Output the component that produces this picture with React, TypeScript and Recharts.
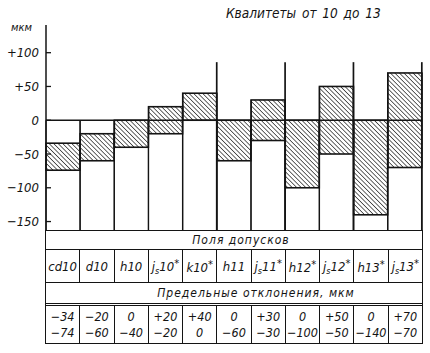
import React from 'react';
import { ComposedChart, Bar, XAxis, YAxis, ReferenceLine } from 'recharts';

// Поля допусков, квалитеты 10..13
const fields = ['cd10', 'd10', 'h10', 'js10', 'k10', 'h11', 'js11', 'h12', 'js12', 'h13', 'js13'];
const fieldLetters = ['cd', 'd', 'h', 'js', 'k', 'h', 'js', 'h', 'js', 'h', 'js'];
const fieldGrades = ['10', '10', '10', '10', '10', '11', '11', '12', '12', '13', '13'];
const starred = [false, false, false, true, true, false, true, true, true, true, true];
const upperDev = [-34, -20, 0, 20, 40, 0, 30, 0, 50, 0, 70];
const lowerDev = [-74, -60, -40, -20, 0, -60, -30, -100, -50, -140, -70];
const groupEnd = [false, false, false, false, true, false, true, false, true, false, true];
const yTicks = [100, 50, 0, -50, -100, -150];

const Y_MIN = -164;
const Y_MAX = 141;
const DIVIDER_TOP = 86;

const INK = '#141414';
const FONT = "'Liberation Sans Narrow', 'DejaVu Sans Condensed', 'Liberation Sans', sans-serif";

const data = fields.map((f, i) => ({
  field: f,
  upper: upperDev[i],
  lower: lowerDev[i],
  top: Math.max(upperDev[i], 0),
  groupEnd: groupEnd[i],
}));

function fmt(v: number): string {
  if (v > 0) return `+${v}`;
  if (v < 0) return `\u2212${-v}`;
  return '0';
}

function ToleranceColumn(props: any) {
  const { x, y, width, height, payload } = props;
  const span = payload.top - Y_MIN;
  const toPx = (v: number) => y + ((payload.top - v) / span) * height;
  const yU = toPx(payload.upper);
  const yL = toPx(payload.lower);
  const yB = y + height;
  return (
    <g>
      <rect x={x} y={yU} width={width} height={yL - yU} fill="url(#hatch)" stroke={INK} strokeWidth={1.6} />
      <line x1={x} y1={y} x2={x} y2={yB} stroke={INK} strokeWidth={1.2} />
      <line x1={x + width} y1={y} x2={x + width} y2={yB} stroke={INK} strokeWidth={1.2} />
      {payload.groupEnd && (
        <line x1={x + width} y1={toPx(DIVIDER_TOP)} x2={x + width} y2={yB} stroke={INK} strokeWidth={1.7} />
      )}
    </g>
  );
}

function AxisTick(props: any) {
  const { x, y, payload } = props;
  return (
    <g>
      <line x1={x} y1={y} x2={x + 5} y2={y} stroke={INK} strokeWidth={1.3} />
      <text
        x={x - 7}
        y={y}
        dy={4.5}
        textAnchor="end"
        fill={INK}
        style={{ fontSize: 13, fontStyle: 'italic', fontFamily: FONT }}
      >
        {fmt(payload.value)}
      </text>
    </g>
  );
}

function FieldName({ i }: { i: number }) {
  const letters = fieldLetters[i];
  return (
    <span>
      {letters === 'js' ? (
        <>
          j<sub style={{ fontSize: 9, verticalAlign: -3 }}>s</sub>
        </>
      ) : (
        letters
      )}
      {fieldGrades[i]}
      {starred[i] && <sup style={{ fontSize: 11, verticalAlign: 4 }}>*</sup>}
    </span>
  );
}

const cellBase: React.CSSProperties = {
  flex: 1,
  display: 'flex',
  alignItems: 'center',
  justifyContent: 'center',
  boxSizing: 'border-box',
};

export default function App() {
  return (
    <div style={{ position: 'relative', width: 430, height: 353, background: '#fff', fontFamily: FONT, color: INK }}>
      <style>{'body{margin:0}'}</style>
      <svg width={0} height={0} style={{ position: 'absolute' }}>
        <defs>
          <pattern id="hatch" patternUnits="userSpaceOnUse" width={3.2} height={3.2} patternTransform="rotate(-45)">
            <line x1={0} y1={0} x2={0} y2={3.2} stroke={INK} strokeWidth={1.3} />
          </pattern>
        </defs>
      </svg>

      <div style={{ position: 'absolute', left: 226, top: 5, fontSize: 13.5, fontStyle: 'italic', wordSpacing: 2 }}>
        Квалитеты от 10 до 13
      </div>
      <div style={{ position: 'absolute', left: 11, top: 21, fontSize: 11, fontStyle: 'italic' }}>мкм</div>

      <ComposedChart
        width={430}
        height={353}
        data={data}
        margin={{ top: 25, right: 8, bottom: 122, left: 0 }}
        barCategoryGap={0}
        barGap={0}
      >
        <XAxis dataKey="field" hide />
        <YAxis
          width={46}
          domain={[Y_MIN, Y_MAX]}
          ticks={yTicks}
          interval={0}
          tickSize={0}
          tickMargin={0}
          tickLine={false}
          axisLine={{ stroke: INK, strokeWidth: 1.5 }}
          tick={<AxisTick />}
        />
        <Bar
          dataKey={(d: any) => [Y_MIN, d.top]}
          shape={<ToleranceColumn />}
          isAnimationActive={false}
        />
        <ReferenceLine y={0} stroke={INK} strokeWidth={1.3} />
      </ComposedChart>

      <div
        style={{
          position: 'absolute',
          left: 45,
          top: 230,
          width: 378,
          height: 114,
          boxSizing: 'border-box',
          border: `1.5px solid ${INK}`,
          fontStyle: 'italic',
          display: 'flex',
          flexDirection: 'column',
        }}
      >
        <div style={{ height: 19, borderBottom: `1.3px solid ${INK}`, display: 'flex', alignItems: 'center', justifyContent: 'center', fontSize: 12, letterSpacing: 1, paddingLeft: 14, boxSizing: 'border-box' }}>
          Поля допусков
        </div>
        <div style={{ height: 33, borderBottom: `1.3px solid ${INK}`, display: 'flex', boxSizing: 'border-box' }}>
          {fields.map((f, i) => (
            <div key={f} style={{ ...cellBase, fontSize: 13, borderRight: i < fields.length - 1 ? `1.2px solid ${INK}` : 'none' }}>
              <FieldName i={i} />
            </div>
          ))}
        </div>
        <div style={{ height: 23, borderBottom: `3.5px double ${INK}`, display: 'flex', alignItems: 'center', justifyContent: 'center', fontSize: 12, letterSpacing: 1, paddingLeft: 44, boxSizing: 'border-box' }}>
          Предельные отклонения, мкм
        </div>
        <div style={{ flex: 1, display: 'flex' }}>
          {fields.map((f, i) => (
            <div
              key={f}
              style={{
                ...cellBase,
                flexDirection: 'column',
                fontSize: 12.5,
                lineHeight: '16px',
                borderRight: i < fields.length - 1 ? `1.2px solid ${INK}` : 'none',
              }}
            >
              <span>{fmt(upperDev[i])}</span>
              <span>{fmt(lowerDev[i])}</span>
            </div>
          ))}
        </div>
      </div>
    </div>
  );
}
